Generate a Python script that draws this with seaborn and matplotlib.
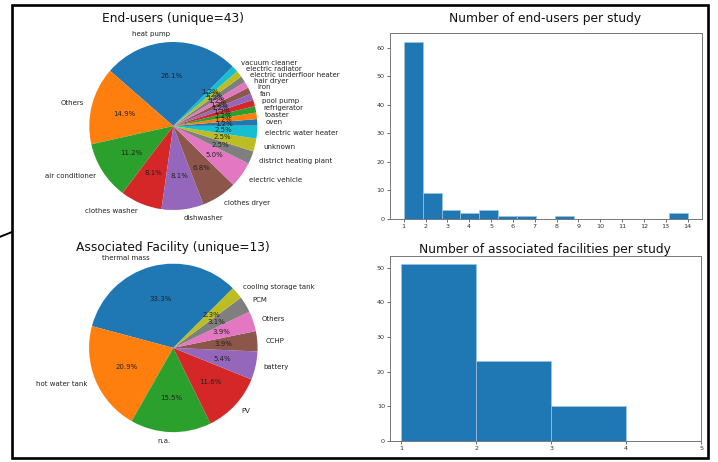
import numpy as np
import matplotlib
matplotlib.use("Agg")
import matplotlib.pyplot as plt
from matplotlib.patches import Rectangle
from matplotlib.lines import Line2D
import seaborn as sns

# ---- data -------------------------------------------------------------
end_user_labels = [
    "heat pump", "Others", "air conditioner", "clothes washer", "dishwasher",
    "clothes dryer", "electric vehicle", "district heating plant", "unknown",
    "electric water heater", "oven", "toaster", "refrigerator", "pool pump",
    "fan", "iron", "hair dryer", "electric underfloor heater",
    "electric radiator", "vacuum cleaner",
]
end_user_counts = [42, 24, 18, 13, 13, 11, 8, 4, 4, 4, 2, 2, 2, 2, 2, 2, 2, 2, 2, 2]

facility_labels = [
    "thermal mass", "hot water tank", "n.a.", "PV", "battery", "CCHP",
    "Others", "PCM", "cooling storage tank",
]
facility_counts = [43, 27, 20, 15, 7, 5, 5, 4, 3]

# number of end-users per study: value -> number of studies
eu_per_study_values = [1, 2, 3, 4, 5, 6, 7, 8, 14]
eu_per_study_counts = [62, 9, 3, 2, 3, 1, 1, 1, 2]

# number of associated facilities per study: value -> number of studies
fac_per_study_values = [1, 2, 3]
fac_per_study_counts = [51, 23, 10]

eu_ticks = list(range(1, 15))
fac_ticks = [1, 2, 3, 4, 5]
fac_bins = [1, 2, 3, 4]

# ---- figure -------------------------------------------------------------
sns.set_style("white")
plt.rcParams["font.family"] = ["DejaVu Sans"]

W, H = 718, 462
fig = plt.figure(figsize=(W / 100, H / 100), dpi=100)
fig.patch.set_facecolor("white")


def box(left, top, width, height):
    """Axes rectangle from pixel coordinates measured from the top-left."""
    return [left / W, 1 - (top + height) / H, width / W, height / H]


palette = sns.color_palette("tab10")
TITLE_FS = 8.8
LABEL_FS = 5.0


def draw_pie(ax, counts, labels):
    colors = [palette[i % 10] for i in range(len(counts))]
    ax.pie(counts, labels=labels, colors=colors, autopct="%1.1f%%",
           startangle=45, wedgeprops={"linewidth": 0, "edgecolor": "none"},
           textprops={"fontsize": LABEL_FS, "color": "#222222"})


ax_pie1 = fig.add_axes(box(68.3, 21.0, 210, 210))
draw_pie(ax_pie1, end_user_counts, end_user_labels)

ax_pie2 = fig.add_axes(box(68.0, 242.6, 210.6, 210.6))
draw_pie(ax_pie2, facility_counts, facility_labels)


def style_hist(ax, ticks):
    ax.set_xlabel("")
    ax.set_ylabel("")
    ax.set_xticks(ticks)
    ax.tick_params(axis="both", labelsize=4.6, length=2.2, width=0.5,
                   pad=1.5, colors="#333333", bottom=True, left=True)
    for sp in ax.spines.values():
        sp.set_color("#777777")
        sp.set_linewidth(0.7)


ax_h1 = fig.add_axes(box(389.5, 33.3, 312.3, 185.7))
eu_data = np.repeat(eu_per_study_values, eu_per_study_counts)
sns.histplot(x=eu_data, bins=15, ax=ax_h1, color="#1f77b4", alpha=1,
             edgecolor="#9ec3e0", linewidth=0.5)
style_hist(ax_h1, eu_ticks)

ax_h2 = fig.add_axes(box(390.0, 255.6, 311.0, 185.1))
fac_data = np.repeat(fac_per_study_values, fac_per_study_counts)
sns.histplot(x=fac_data, bins=fac_bins, ax=ax_h2, color="#1f77b4", alpha=1,
             edgecolor="#9ec3e0", linewidth=0.5)
style_hist(ax_h2, fac_ticks)

# ---- titles -------------------------------------------------------------
titles = [
    ("End-users (unique=43)", 172.5, 21.7),
    ("Associated Facility (unique=13)", 172.5, 251.0),
    ("Number of end-users per study", 545.0, 22.3),
    ("Number of associated facilities per study", 545.0, 252.7),
]
for text, x, y in titles:
    fig.text(x / W, 1 - y / H, text, ha="center", va="baseline",
             fontsize=TITLE_FS, color="#111111")

# ---- frame around the panel ---------------------------------------------
frame = Rectangle((11.8 / W, 1 - 457.8 / H), (708.2 - 11.8) / W,
                  (457.8 - 5.3) / H, transform=fig.transFigure,
                  fill=False, edgecolor="black", linewidth=1.9, zorder=10)
fig.patches.append(frame)
fig.lines.append(Line2D([0, 12 / W], [1 - 236.8 / H, 1 - 232.0 / H],
                        transform=fig.transFigure, color="black",
                        linewidth=1.4, zorder=10))

fig.savefig("out.png", dpi=100, facecolor="white")
